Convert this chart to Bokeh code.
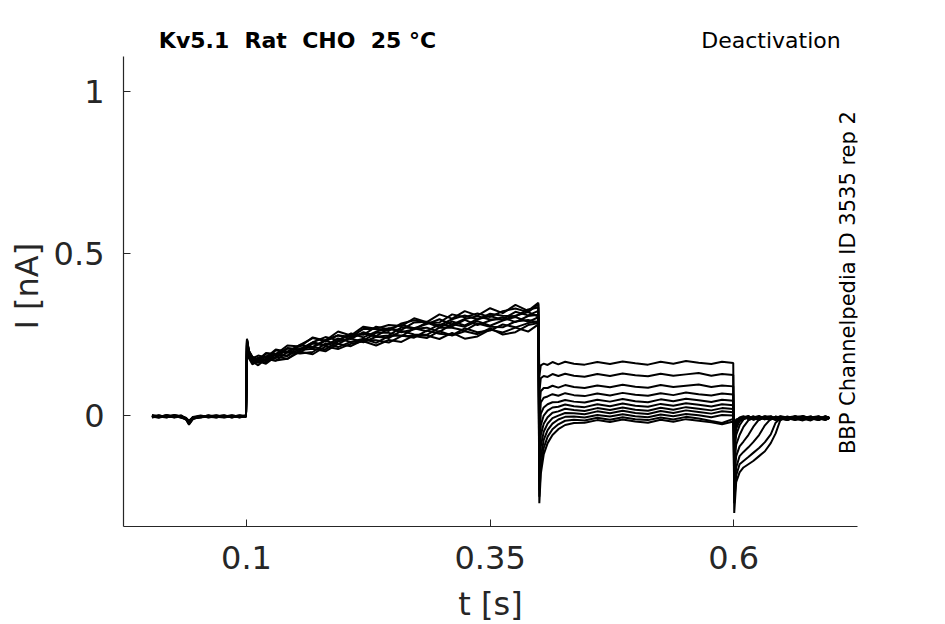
import math
from bokeh.plotting import figure
from bokeh.models import Range1d, FixedTicker, Label, Title
from bokeh.embed import file_html
from bokeh.resources import INLINE

# time samples (s): holding, pulse, tail step, return
t_hold = [0.003, 0.010, 0.018, 0.026, 0.033, 0.038, 0.041, 0.045, 0.053, 0.061,
          0.069, 0.077, 0.085, 0.093, 0.0995]
t_pulse = [0.1005, 0.1025, 0.106, 0.112, 0.12, 0.13, 0.142, 0.155, 0.168, 0.181,
           0.194, 0.207, 0.22, 0.233, 0.246, 0.259, 0.272, 0.285, 0.298, 0.311,
           0.324, 0.337, 0.35, 0.363, 0.376, 0.389, 0.3995]
t_tail = [0.4005, 0.402, 0.405, 0.409, 0.414, 0.42, 0.427, 0.436, 0.447, 0.46,
          0.473, 0.486, 0.499, 0.512, 0.525, 0.538, 0.551, 0.564, 0.577, 0.588, 0.5995]
t_ret = [0.6005, 0.6025, 0.606, 0.61, 0.615, 0.62, 0.626, 0.632, 0.638, 0.643,
         0.648, 0.655, 0.663, 0.671, 0.679, 0.687, 0.694, 0.698]
t_s = t_hold + t_pulse + t_tail + t_ret

# currents (nA), one list per sweep
i_01 = [-0.002, -0.006, 0.001, -0.004, -0.003, -0.012, -0.026, -0.010, -0.004, 0.000, -0.005, -0.002, -0.004, 0.001, -0.002,
        0.235, 0.200, 0.182, 0.172, 0.193, 0.189, 0.216, 0.213, 0.241, 0.231, 0.259, 0.247, 0.274, 0.268, 0.279, 0.276, 0.300, 0.288, 0.312, 0.299, 0.322, 0.308, 0.331, 0.316, 0.341, 0.323, 0.348,
        0.120, 0.155, 0.160, 0.156, 0.165, 0.158, 0.166, 0.160, 0.157, 0.165, 0.159, 0.167, 0.161, 0.157, 0.166, 0.160, 0.168, 0.163, 0.159, 0.166, 0.162,
        -0.300, -0.205, -0.175, -0.160, -0.150, -0.140, -0.125, -0.110, -0.085, -0.055, -0.012, -0.004, -0.012, -0.001, -0.009, -0.014, -0.003, -0.008]
i_02 = [-0.005, 0.000, -0.004, -0.001, -0.006, -0.010, -0.022, -0.008, -0.002, -0.005, -0.001, -0.004, 0.000, -0.003, -0.001,
        0.237, 0.199, 0.176, 0.185, 0.179, 0.204, 0.197, 0.218, 0.239, 0.229, 0.248, 0.242, 0.267, 0.268, 0.261, 0.284, 0.294, 0.286, 0.287, 0.312, 0.303, 0.315, 0.304, 0.322, 0.330, 0.319, 0.343,
        0.070, 0.115, 0.122, 0.119, 0.128, 0.122, 0.129, 0.123, 0.120, 0.128, 0.122, 0.130, 0.124, 0.121, 0.129, 0.123, 0.127, 0.131, 0.123, 0.128, 0.125,
        -0.270, -0.185, -0.150, -0.140, -0.128, -0.115, -0.100, -0.082, -0.058, -0.022, -0.008, -0.013, -0.002, -0.010, -0.015, -0.004, -0.010, -0.006]
i_03 = [0.001, -0.003, -0.006, 0.002, -0.002, -0.008, -0.018, -0.006, -0.005, -0.001, -0.003, 0.001, -0.005, -0.002, -0.004,
        0.230, 0.198, 0.179, 0.167, 0.191, 0.188, 0.208, 0.203, 0.226, 0.242, 0.232, 0.252, 0.249, 0.274, 0.266, 0.264, 0.287, 0.289, 0.278, 0.297, 0.309, 0.296, 0.314, 0.308, 0.306, 0.327, 0.333,
        0.020, 0.075, 0.085, 0.085, 0.092, 0.086, 0.094, 0.088, 0.085, 0.093, 0.087, 0.095, 0.089, 0.086, 0.094, 0.088, 0.092, 0.096, 0.088, 0.093, 0.090,
        -0.240, -0.160, -0.125, -0.112, -0.098, -0.082, -0.060, -0.030, -0.010, -0.005, -0.013, -0.004, -0.010, -0.015, -0.005, -0.011, -0.002, -0.008]
i_04 = [-0.004, -0.001, -0.002, -0.005, 0.001, -0.009, -0.020, -0.004, 0.000, -0.004, -0.006, -0.001, -0.002, -0.005, 0.000,
        0.236, 0.191, 0.180, 0.170, 0.171, 0.201, 0.194, 0.218, 0.211, 0.233, 0.247, 0.236, 0.257, 0.245, 0.268, 0.279, 0.269, 0.282, 0.297, 0.280, 0.298, 0.306, 0.296, 0.297, 0.320, 0.309, 0.323,
        -0.030, 0.040, 0.055, 0.059, 0.066, 0.061, 0.069, 0.063, 0.060, 0.068, 0.062, 0.070, 0.064, 0.061, 0.069, 0.063, 0.071, 0.066, 0.062, 0.068, 0.065,
        -0.200, -0.125, -0.095, -0.080, -0.060, -0.035, -0.012, -0.005, -0.011, -0.003, -0.010, -0.014, -0.005, -0.011, -0.003, -0.012, -0.007, -0.005]
i_05 = [-0.001, -0.005, 0.002, -0.003, -0.004, -0.011, -0.024, -0.009, -0.003, -0.002, 0.001, -0.005, -0.003, 0.000, -0.003,
        0.230, 0.196, 0.171, 0.178, 0.181, 0.177, 0.207, 0.204, 0.226, 0.217, 0.230, 0.253, 0.241, 0.259, 0.269, 0.257, 0.266, 0.287, 0.272, 0.290, 0.278, 0.297, 0.307, 0.295, 0.308, 0.319, 0.305,
        -0.080, 0.005, 0.025, 0.035, 0.041, 0.042, 0.048, 0.043, 0.040, 0.049, 0.043, 0.051, 0.044, 0.041, 0.050, 0.044, 0.052, 0.047, 0.042, 0.049, 0.046,
        -0.160, -0.090, -0.060, -0.035, -0.015, -0.008, -0.003, -0.011, -0.005, -0.013, -0.004, -0.008, -0.014, -0.003, -0.010, -0.006, -0.013, -0.008]
i_06 = [-0.006, -0.002, -0.003, 0.000, -0.005, -0.007, -0.016, -0.005, -0.006, 0.001, -0.004, -0.003, 0.001, -0.004, -0.002,
        0.233, 0.188, 0.177, 0.162, 0.183, 0.187, 0.185, 0.217, 0.211, 0.230, 0.220, 0.241, 0.253, 0.243, 0.247, 0.272, 0.269, 0.260, 0.281, 0.275, 0.295, 0.279, 0.293, 0.303, 0.288, 0.307, 0.311,
        -0.120, -0.030, 0.000, 0.015, 0.025, 0.027, 0.034, 0.029, 0.026, 0.035, 0.029, 0.037, 0.030, 0.027, 0.036, 0.030, 0.038, 0.033, 0.028, 0.035, 0.032,
        -0.120, -0.060, -0.030, -0.012, -0.005, -0.011, -0.004, -0.012, -0.003, -0.008, -0.013, -0.006, -0.002, -0.011, -0.007, -0.014, -0.004, -0.009]
i_07 = [0.000, -0.004, -0.001, -0.006, -0.002, -0.010, -0.021, -0.007, -0.001, -0.006, -0.002, 0.000, -0.006, -0.001, -0.003,
        0.224, 0.191, 0.168, 0.178, 0.167, 0.191, 0.197, 0.194, 0.222, 0.215, 0.238, 0.227, 0.231, 0.255, 0.255, 0.245, 0.268, 0.271, 0.258, 0.282, 0.274, 0.291, 0.277, 0.293, 0.304, 0.289, 0.303,
        -0.160, -0.060, -0.025, -0.005, 0.009, 0.013, 0.021, 0.017, 0.014, 0.023, 0.017, 0.025, 0.018, 0.015, 0.024, 0.018, 0.026, 0.021, 0.016, 0.023, 0.020,
        -0.090, -0.040, -0.018, -0.008, -0.003, -0.013, -0.007, -0.002, -0.011, -0.006, -0.003, -0.012, -0.008, -0.004, -0.013, -0.003, -0.011, -0.006]
i_08 = [-0.003, 0.001, -0.005, -0.002, -0.006, -0.012, -0.028, -0.011, -0.004, -0.003, -0.005, -0.002, -0.001, -0.006, -0.001,
        0.227, 0.182, 0.171, 0.170, 0.163, 0.190, 0.183, 0.207, 0.212, 0.204, 0.228, 0.238, 0.226, 0.243, 0.239, 0.261, 0.250, 0.249, 0.271, 0.271, 0.262, 0.284, 0.274, 0.272, 0.290, 0.295, 0.287,
        -0.200, -0.095, -0.050, -0.025, -0.008, 0.000, 0.008, 0.007, 0.004, 0.013, 0.007, 0.015, 0.008, 0.005, 0.014, 0.008, 0.016, 0.011, 0.006, 0.013, 0.010,
        -0.070, -0.028, -0.012, -0.004, -0.010, -0.002, -0.012, -0.006, -0.008, -0.014, -0.004, -0.010, -0.003, -0.013, -0.006, -0.002, -0.010, -0.007]
i_09 = [-0.002, -0.003, 0.000, -0.004, -0.001, -0.008, -0.019, -0.006, -0.002, -0.001, -0.004, -0.006, -0.002, -0.003, 0.001,
        0.225, 0.185, 0.162, 0.171, 0.174, 0.169, 0.196, 0.191, 0.196, 0.222, 0.211, 0.227, 0.237, 0.224, 0.245, 0.247, 0.240, 0.262, 0.252, 0.248, 0.269, 0.257, 0.262, 0.281, 0.272, 0.285, 0.291,
        -0.230, -0.130, -0.075, -0.045, -0.025, -0.012, -0.004, -0.003, -0.006, 0.002, -0.003, 0.004, -0.002, -0.005, 0.003, -0.002, 0.005, 0.001, -0.005, 0.002, 0.000,
        -0.050, -0.020, -0.008, -0.012, -0.003, -0.008, -0.014, -0.004, -0.002, -0.010, -0.012, -0.003, -0.011, -0.007, -0.003, -0.013, -0.006, -0.010]
i_10 = [-0.004, -0.006, -0.002, 0.001, -0.003, -0.009, -0.023, -0.008, -0.005, -0.004, 0.000, -0.003, -0.005, -0.001, -0.004,
        0.218, 0.184, 0.167, 0.155, 0.175, 0.170, 0.175, 0.202, 0.206, 0.198, 0.221, 0.214, 0.233, 0.232, 0.225, 0.245, 0.245, 0.239, 0.260, 0.247, 0.260, 0.251, 0.269, 0.250, 0.257, 0.279, 0.285,
        -0.250, -0.160, -0.100, -0.065, -0.042, -0.027, -0.016, -0.013, -0.015, -0.007, -0.013, -0.005, -0.011, -0.014, -0.006, -0.012, -0.004, -0.009, -0.017, -0.023, -0.010,
        -0.040, -0.015, -0.006, -0.002, -0.011, -0.006, -0.001, -0.010, -0.013, -0.003, -0.007, -0.013, -0.004, -0.002, -0.011, -0.008, -0.003, -0.006]
i_11 = [0.001, -0.002, -0.004, -0.003, -0.005, -0.010, -0.025, -0.009, -0.001, -0.002, -0.003, -0.001, -0.004, -0.002, -0.002,
        0.220, 0.177, 0.158, 0.167, 0.160, 0.182, 0.175, 0.197, 0.189, 0.213, 0.205, 0.221, 0.229, 0.216, 0.233, 0.227, 0.247, 0.247, 0.236, 0.255, 0.237, 0.244, 0.265, 0.256, 0.271, 0.259, 0.281,
        -0.270, -0.180, -0.120, -0.085, -0.060, -0.042, -0.029, -0.023, -0.022, -0.014, -0.020, -0.012, -0.018, -0.022, -0.013, -0.019, -0.011, -0.016, -0.021, -0.027, -0.018,
        -0.030, -0.012, -0.009, -0.005, -0.001, -0.012, -0.008, -0.003, -0.007, -0.011, -0.002, -0.006, -0.013, -0.008, -0.004, -0.009, -0.014, -0.007]

sweeps = [i_01, i_02, i_03, i_04, i_05, i_06, i_07, i_08, i_09, i_10, i_11]

x_ticks = [0.1, 0.35, 0.6]
x_tick_labels = ["0.1", "0.35", "0.6"]
y_ticks = [0, 0.5, 1]
y_tick_labels = ["0", "0.5", "1"]

title_left = "Kv5.1\u00a0 Rat\u00a0 CHO\u00a0 25 °C"
title_right = "Deactivation"
side_note = "BBP Channelpedia ID 3535 rep 2"
x_label = "t [s]"
y_label = "I [nA]"

FONT = "DejaVu Sans"
AX = "#262626"
Y_LO, Y_HI = -0.342, 1.107
X_LO, X_HI = -0.0262, 0.727

p = figure(frame_width=734, frame_height=506,
           min_border_left=123, min_border_right=80,
           min_border_top=20, min_border_bottom=90,
           x_range=Range1d(X_LO, X_HI), y_range=Range1d(Y_LO, 1.218),
           output_backend="svg", toolbar_location=None)
p.outline_line_color = None
p.grid.visible = False
p.background_fill_color = "white"
p.border_fill_color = "white"

for s in sweeps:
    p.line(t_s, s, line_color="black", line_width=2.0)

p.xaxis.ticker = FixedTicker(ticks=x_ticks)
p.xaxis.major_label_overrides = dict(zip(x_ticks, x_tick_labels))
p.yaxis.ticker = FixedTicker(ticks=y_ticks)
p.yaxis.major_label_overrides = dict(zip(y_ticks, y_tick_labels))
p.yaxis.bounds = (Y_LO, Y_HI)
p.xaxis.axis_label = x_label

for ax in (p.xaxis, p.yaxis):
    ax.axis_line_color = AX
    ax.axis_line_width = 1.2
    ax.major_tick_line_color = AX
    ax.major_tick_in = 7
    ax.major_tick_out = 0
    ax.minor_tick_in = 0
    ax.minor_tick_out = 0
    ax.major_label_text_font = FONT
    ax.major_label_text_font_size = "32px"
    ax.major_label_text_color = AX
    ax.axis_label_text_font = FONT
    ax.axis_label_text_font_size = "32px"
    ax.axis_label_text_font_style = "normal"
    ax.axis_label_text_color = AX

p.xaxis.major_label_standoff = 19
p.yaxis.major_label_standoff = 19
p.xaxis.axis_label_standoff = 13

# y axis label as a side title so it can sit at the reference's height
p.add_layout(Title(text=y_label, align="left", offset=197, standoff=10,
                   text_font=FONT, text_font_size="32px",
                   text_font_style="normal", text_color=AX), "left")

p.add_layout(Label(x=0.0101, y=1.1566, text=title_left, text_font=FONT,
                   text_font_style="bold", text_font_size="22px",
                   text_align="left", text_baseline="middle", text_color="black"))
p.add_layout(Label(x=0.7098, y=1.1566, text=title_right, text_font=FONT,
                   text_font_size="22px", text_align="right",
                   text_baseline="middle", text_color="black"))
p.add_layout(Label(x=0.717, y=0.41, text=side_note, text_font=FONT,
                   text_font_size="21px", angle=math.pi / 2,
                   text_align="center", text_baseline="middle", text_color="black"))

open("out.html", "w").write(file_html(p, INLINE))
